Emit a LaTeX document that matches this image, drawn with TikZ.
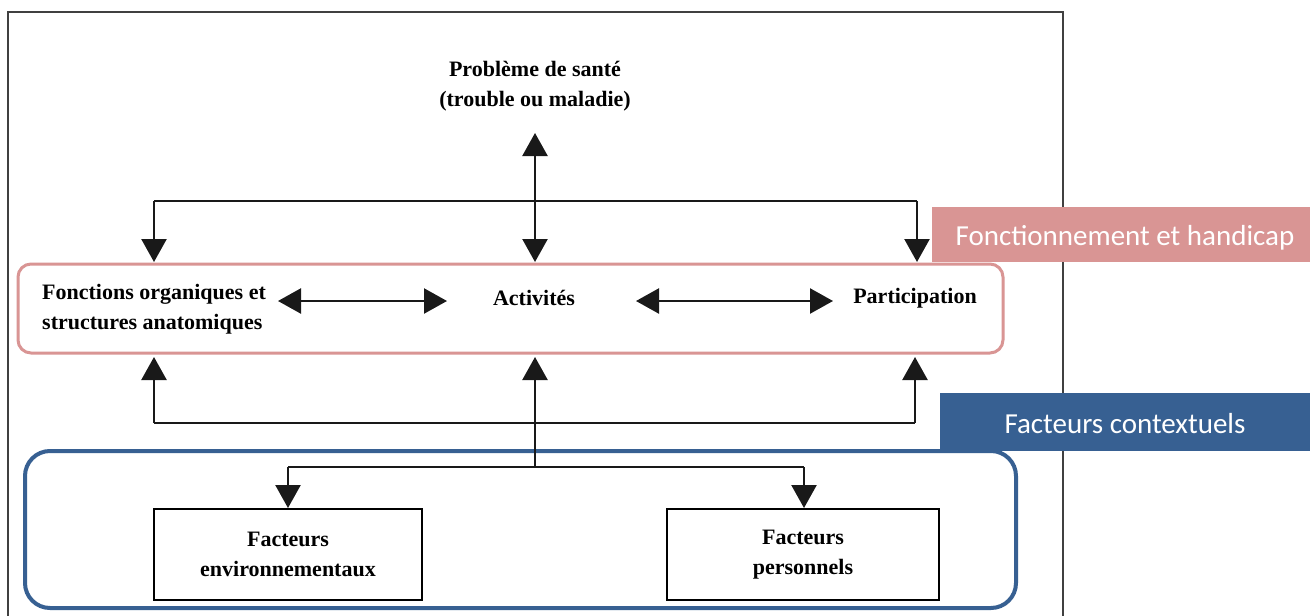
\documentclass[tikz,border=0pt]{standalone}
\usepackage{fontspec}
\setmainfont{Liberation Serif}
\newfontfamily\labfont{Carlito}
\usetikzlibrary{arrows.meta}
\definecolor{pinkc}{HTML}{D99594}
\definecolor{bluec}{HTML}{376092}
\tikzset{
  txt/.style={font=\fontsize{22}{30}\selectfont\bfseries, inner sep=0pt, align=center},
  conn/.style={line width=2.4pt, black!90},
  tip/.style={-{Triangle[length=23pt,width=25pt]}},
  dtip/.style={{Triangle[length=23pt,width=25pt]}-{Triangle[length=23pt,width=25pt]}},
  factbox/.style={draw, line width=2.4pt, minimum width=268pt, minimum height=91pt, inner sep=0pt, txt},
  labelbox/.style={font=\labfont\fontsize{29}{34}\selectfont, text=white, inner sep=0pt}
}
\begin{document}
\begin{tikzpicture}[x=1pt,y=-1pt]
\useasboundingbox (0,0) rectangle (1310,616);
\fill[white] (0,0) rectangle (1310,616);
% outer frame
\draw[line width=2.4pt, black!75] (8,616) -- (8,12) -- (1063,12) -- (1063,616);
% group boxes
\draw[pinkc, line width=3pt, rounded corners=13pt] (18,264) rectangle (1003,353);
\draw[bluec, line width=4pt, rounded corners=25pt] (25,451) rectangle (1016,608);
% labels
\node[fill=pinkc, minimum width=378pt, minimum height=55pt, inner sep=0pt, anchor=north west] (lab1) at (932,207) {};
\node[labelbox] (lab1t) at (1125,238) {Fonctionnement et handicap};
\node[fill=bluec, minimum width=370pt, minimum height=58pt, inner sep=0pt, anchor=north west] (lab2) at (940,393) {};
\node[labelbox] (lab2t) at (1125,424) {Facteurs contextuels};
% text nodes
\node[txt] (prob) at (535,86) {Problème de santé\\(trouble ou maladie)};
\node[txt, align=left, anchor=west] (fonc) at (42,309) {Fonctions organiques et\\structures anatomiques};
\node[txt] (act) at (534,298) {Activités};
\node[txt] (part) at (915,298) {Participation};
\node[factbox] (env) at (288,554.5) {Facteurs\\environnementaux};
\node[factbox, minimum width=272pt] (pers) at (803,554.5) {Facteurs\\personnels};
% coordinates
\coordinate (probB) at (535,133);
\coordinate (actT) at (535,262);
\coordinate (foncT) at (154,262);
\coordinate (partT) at (917,262);
\coordinate (topL) at (154,201);
\coordinate (topR) at (917,201);
\coordinate (foncB) at (154,357);
\coordinate (actB) at (535,357);
\coordinate (partB) at (915,357);
\coordinate (botL) at (154,423);
\coordinate (botR) at (915,423);
\coordinate (ctxJ) at (535,467);
\coordinate (envJ) at (288,467);
\coordinate (persJ) at (804,467);
\coordinate (envT) at (288,508);
\coordinate (persT) at (804,508);
\coordinate (fa1) at (278,301);
\coordinate (fa2) at (447,301);
\coordinate (ap1) at (636,301);
\coordinate (ap2) at (833,301);
% connectors
\draw[conn, dtip] (probB) -- (actT);
\draw[conn] (topL) -- (topR);
\draw[conn, tip] (topL) -- (foncT);
\draw[conn, tip] (topR) -- (partT);
\draw[conn, dtip] (fa1) -- (fa2);
\draw[conn, dtip] (ap1) -- (ap2);
\draw[conn] (botL) -- (botR);
\draw[conn, tip] (botL) -- (foncB);
\draw[conn, tip] (botR) -- (partB);
\draw[conn, tip] (ctxJ) -- (actB);
\draw[conn] (envJ) -- (persJ);
\draw[conn, tip] (envJ) -- (envT);
\draw[conn, tip] (persJ) -- (persT);
\end{tikzpicture}
\end{document}
